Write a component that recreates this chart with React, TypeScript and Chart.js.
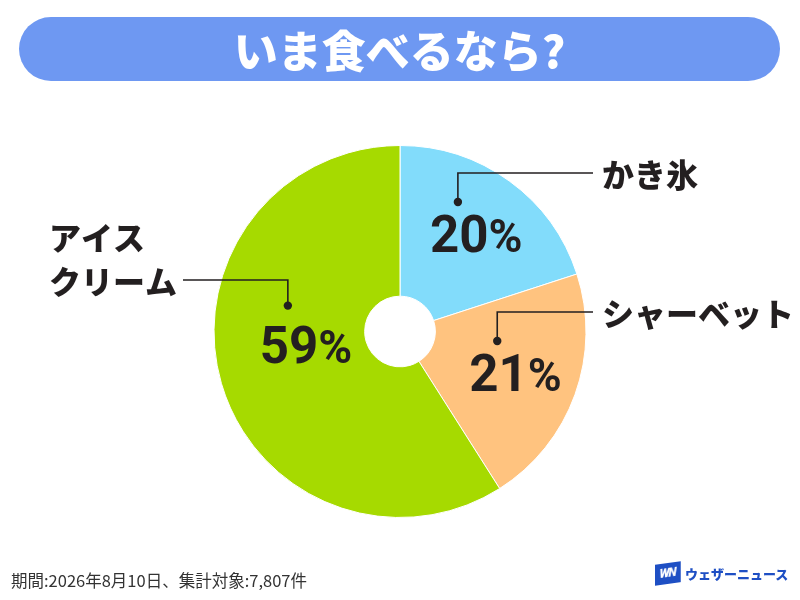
import React, { useEffect, useRef } from "react";
import { Chart, registerables } from "chart.js";

Chart.register(...registerables);

const TITLE = "いま食べるなら?";
const categories = ["かき氷", "シャーベット", "アイス\nクリーム"];
const values = [20, 21, 59];
const colors = ["#82DCFB", "#FFC37F", "#A6DA00"];
const FOOTER = "期間:2026年8月10日、集計対象:7,807件";
const BRAND = "ウェザーニュース";

// layout for labels (relative to pie centre), per slice
const pctShift = [[4, 2], [0, 0], [24, -21]];
const dotLift = [14, 14, 21];
const lineY = [-158.5, -19.5, -51.5];
const lineEndX = [193, 193, -217];

const INK = "#231F20";
const JP = '"Noto Sans CJK JP", "Noto Sans", sans-serif';
const NUM = 'Roboto, "DejaVu Sans", sans-serif';

const labelPlugin = {
  id: "pieLabels",
  afterDraw(chart: any) {
    const ctx = chart.ctx;
    const meta = chart.getDatasetMeta(0);
    meta.data.forEach((arc: any, i: number) => {
      const p = arc.getProps(["x", "y", "startAngle", "endAngle", "outerRadius"], true);
      const mid = (p.startAngle + p.endAngle) / 2;
      const r = p.outerRadius * 0.66;
      const cx = p.x + Math.cos(mid) * r + pctShift[i][0];
      const cy = p.y + Math.sin(mid) * r + pctShift[i][1];
      ctx.save();
      // percentage
      const num = String(values[i]);
      ctx.font = `bold 51px ${NUM}`;
      const wNum = ctx.measureText(num).width;
      ctx.font = `bold 46px ${NUM}`;
      const wPct = ctx.measureText("%").width;
      const gap = 0;
      const total = wNum + gap + wPct;
      const left = cx - total / 2;
      const capH = 51 * 0.711;
      const base = cy + capH / 2;
      ctx.fillStyle = INK;
      ctx.textBaseline = "alphabetic";
      ctx.textAlign = "left";
      ctx.font = `bold 51px ${NUM}`;
      ctx.fillText(num, left, base);
      ctx.font = `bold 46px ${NUM}`;
      ctx.fillText("%", left + wNum + gap, base);
      // leader
      const dx = left + 28;
      const dy = base - capH - dotLift[i];
      const ly = p.y + lineY[i];
      const lx = p.x + lineEndX[i];
      ctx.strokeStyle = INK;
      ctx.lineWidth = 1.6;
      ctx.beginPath();
      ctx.moveTo(dx, dy);
      ctx.lineTo(dx, ly);
      ctx.lineTo(lx, ly);
      ctx.stroke();
      ctx.beginPath();
      ctx.arc(dx, dy, 4.2, 0, Math.PI * 2);
      ctx.fillStyle = INK;
      ctx.fill();
      // category label
      ctx.font = `900 32px ${JP}`;
      ctx.textBaseline = "middle";
      const lines = categories[i].split("\n");
      const lh = 44;
      if (lx > dx) {
        ctx.textAlign = "left";
        lines.forEach((t, k) => ctx.fillText(t, lx + 9, ly + 2 - (lines.length - 1 - k) * lh));
      } else {
        const wMax = Math.max(...lines.map((t) => ctx.measureText(t).width));
        ctx.textAlign = "left";
        lines.forEach((t, k) => ctx.fillText(t, lx - 6 - wMax, ly + 2 - (lines.length - 1 - k) * lh));
      }
      ctx.restore();
    });
  },
};

export default function App() {
  const ref = useRef<HTMLCanvasElement>(null);
  useEffect(() => {
    document.body.style.margin = "0";
    const chart = new Chart(ref.current!, {
      type: "doughnut",
      data: {
        labels: categories,
        datasets: [
          {
            data: values,
            backgroundColor: colors,
            borderColor: "#ffffff",
            borderWidth: 1,
          },
        ],
      },
      options: {
        responsive: false,
        animation: false,
        cutout: "19%",
        layout: { padding: { left: 213, right: 213, top: 145, bottom: 82 } },
        plugins: { legend: { display: false }, tooltip: { enabled: false }, title: { display: false } },
      },
      plugins: [labelPlugin],
    });
    return () => chart.destroy();
  }, []);

  return (
    <div style={{ position: "relative", width: 800, height: 600, background: "#fff", overflow: "hidden" }}>
      <canvas ref={ref} width={800} height={600} style={{ position: "absolute", left: 0, top: 0 }} />
      <div
        style={{
          position: "absolute",
          left: 19,
          top: 17,
          width: 761,
          height: 64,
          borderRadius: 32,
          background: "#6E98F2",
          color: "#fff",
          fontFamily: JP,
          fontWeight: 900,
          fontSize: 44,
          lineHeight: "64px",
          textAlign: "center",
        }}
      >
        {TITLE}
      </div>
      <div
        style={{
          position: "absolute",
          left: 11,
          top: 569,
          fontFamily: JP,
          fontSize: 16.5,
          lineHeight: "22px",
          color: "#333",
          whiteSpace: "nowrap",
        }}
      >
        {FOOTER}
      </div>
      <div style={{ position: "absolute", left: 655, top: 563, display: "flex", alignItems: "center" }}>
        <div
          style={{
            width: 25,
            height: 21,
            background: "#1E4FC4",
            transform: "skewY(-8deg)",
            color: "#fff",
            fontFamily: NUM,
            fontWeight: 900,
            fontStyle: "italic",
            fontSize: 12,
            lineHeight: "21px",
            textAlign: "center",
            letterSpacing: -1,
          }}
        >
          WN
        </div>
        <div
          style={{
            marginLeft: 5,
            fontFamily: JP,
            fontWeight: 900,
            fontSize: 13,
            color: "#1E4FC4",
            whiteSpace: "nowrap",
          }}
        >
          {BRAND}
        </div>
      </div>
    </div>
  );
}
